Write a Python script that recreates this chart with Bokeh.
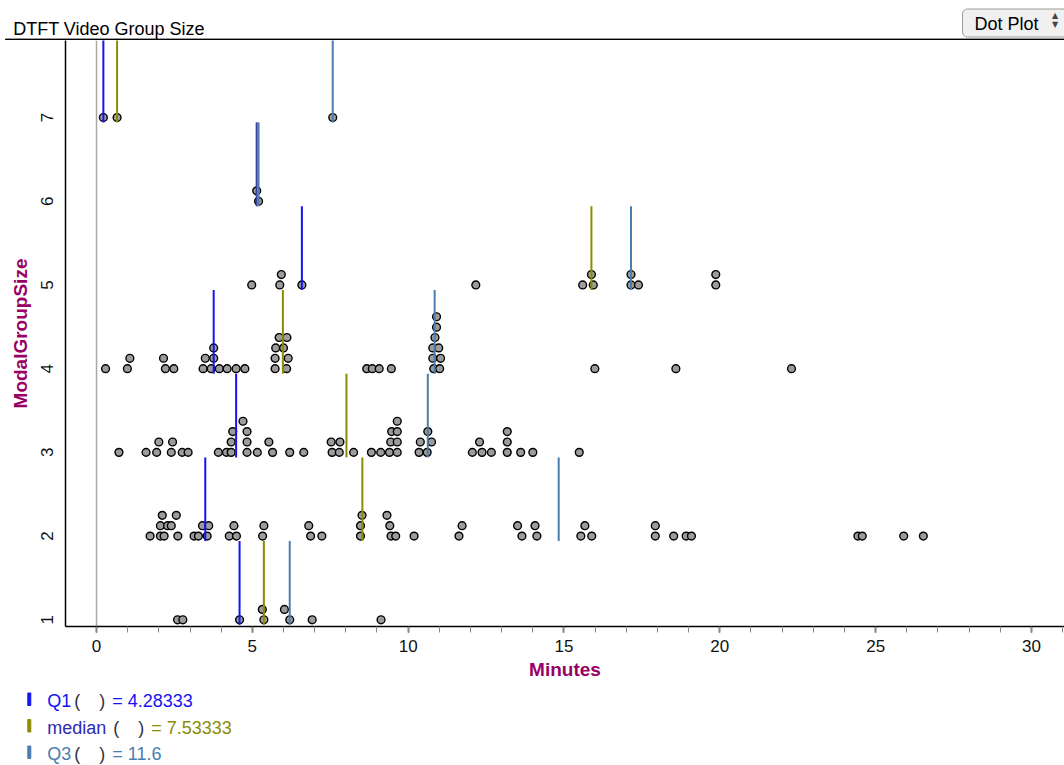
import math
from bokeh.plotting import figure
from bokeh.layouts import column
from bokeh.models import (Range1d, SingleIntervalTicker, FixedTicker, Span, Label,
                          BoxAnnotation, ColumnDataSource)
from bokeh.embed import file_html
from bokeh.resources import INLINE

# ---------------- data ----------------
group_sizes = [1, 2, 3, 4, 5, 6, 7]

# minutes per case, in case order, for each ModalGroupSize
minutes_g1 = [2.60, 2.77, 4.59, 5.37, 6.20, 6.92, 9.13, 5.32, 6.03]
minutes_g2 = [1.72, 2.05, 2.17, 2.61, 3.13, 3.27, 3.55, 4.26, 4.49, 5.33, 6.87, 7.23,
              8.47, 9.45, 9.60, 10.19, 11.63, 13.65, 14.13, 15.54, 15.89, 17.93, 18.52,
              18.92, 19.09, 24.43, 24.57, 25.90, 26.53,
              2.05, 2.28, 2.40, 3.40, 3.60, 4.41, 5.37, 6.81, 8.47, 9.41, 11.73, 13.51,
              14.07, 15.67, 17.93,
              2.11, 2.56, 8.52, 9.32]
minutes_g3 = [0.72, 1.59, 1.93, 2.40, 2.75, 2.94, 3.91, 4.17, 4.32, 4.83, 5.16, 5.65,
              6.20, 6.65, 7.56, 7.79, 8.25, 8.82, 9.12, 9.40, 9.65, 10.35, 10.61, 10.75,
              12.06, 12.37, 12.67, 13.18, 13.61, 14.00, 15.49,
              2.00, 2.44, 4.32, 4.83, 5.53, 7.53, 7.81, 9.44, 9.65, 10.39, 12.29, 13.18,
              4.37, 4.83, 9.47, 9.65, 10.63, 13.18,
              4.70, 9.65]
minutes_g4 = [0.29, 0.99, 2.21, 2.48, 3.42, 3.68, 3.94, 4.19, 4.48, 4.76, 5.73, 6.10,
              8.67, 8.85, 9.07, 9.46, 10.82, 11.01, 15.99, 18.59, 22.30,
              1.07, 2.15, 3.49, 3.76, 5.73, 6.15, 10.79, 11.04,
              3.76, 5.75, 6.00, 10.79, 10.98,
              5.86, 6.11, 10.86,
              10.91,
              10.91]
minutes_g5 = [4.98, 5.88, 6.59, 12.17, 15.60, 15.94, 17.15, 17.39, 19.87,
              5.93, 15.88, 17.15, 19.87]
minutes_g6 = [5.20, 5.14]
minutes_g7 = [0.22, 0.66, 7.58]
minutes_by_group = [minutes_g1, minutes_g2, minutes_g3, minutes_g4,
                    minutes_g5, minutes_g6, minutes_g7]

# per-group summary lines
q1_values = [4.59, 3.49, 4.48, 3.76, 6.59, 5.14, 0.22]
median_values = [5.37, 8.53, 8.02, 5.98, 15.88, 5.17, 0.66]
q3_values = [6.20, 14.83, 10.63, 10.85, 17.15, 5.20, 7.58]

x_ticks = [0, 5, 10, 15, 20, 25, 30]
y_ticks = [1, 2, 3, 4, 5, 6, 7]

title_text = "DTFT Video Group Size"
x_label = "Minutes"
y_label = "ModalGroupSize"
summary_names = ["Q1", "median", "Q3"]
summary_results = ["4.28333", "7.53333", "11.6"]
menu_text = "Dot Plot"

# ---------------- styling / layout constants ----------------
FONT = "Liberation Sans"
ATTR_COLOR = "#990066"
Q1_COLOR = "#1414f0"
MED_COLOR = "#8c8c00"
Q3_COLOR = "#4a7db0"
NAME_COLORS = ["#1414f0", "#2b2bb0", "#4a7db0"]
RESULT_COLORS = [Q1_COLOR, MED_COLOR, Q3_COLOR]
LINE_COLORS = [Q1_COLOR, MED_COLOR, Q3_COLOR]

BIN_W = 0.2566      # stacking bin width (minutes)
BIN_0 = 2.124       # bin origin
STEP = 0.124        # vertical distance between stacked dots
BAND_LO, BAND_HI = -0.06, 0.94

W = 1064
HEAD_H = 40
FRAME_H = 586
AXIS_H = 62
MAIN_H = FRAME_H + AXIS_H
FOOT_H = 765 - HEAD_H - MAIN_H
FOOT_TOP = HEAD_H + MAIN_H
LABEL_DY = -6.0


def no_align(f):
    try:
        f.frame_align = False
    except Exception:
        pass


def plain_fig(h):
    f = figure(width=W, height=h, x_range=Range1d(0, W), y_range=Range1d(h, 0),
               output_backend="svg", toolbar_location=None,
               x_axis_type=None, y_axis_type=None,
               min_border_left=0, min_border_right=0, min_border_top=0, min_border_bottom=0)
    f.outline_line_color = None
    f.xgrid.visible = False
    f.ygrid.visible = False
    f.background_fill_color = "white"
    f.border_fill_color = "white"
    no_align(f)
    return f


def label(f, text, x, y, color="black", size="18px", align="left", font=FONT):
    f.add_layout(Label(x=x, y=y + LABEL_DY, text=text, text_color=color, text_font=font,
                       text_font_size=size, text_align=align,
                       text_baseline="alphabetic"))


def box(f, x0, y0, x1, y1, fill, line=None):
    b = BoxAnnotation(left=x0, right=x1, top=y0, bottom=y1,
                      fill_color=fill, fill_alpha=1.0,
                      line_color=line if line else fill, line_alpha=1.0, line_width=1)
    f.add_layout(b)
    return b


# ---------------- header ----------------
head = plain_fig(HEAD_H)
box(head, 5, 38.6, W, 40, "black")
label(head, title_text, 12.7, 34.5, size="18px")
mb = box(head, 962, 8.5, W + 6, 36.5, "#f0f0f0", "#9a9a9a")
try:
    mb.border_radius = 5
except Exception:
    pass
label(head, menu_text, 974, 29.0, size="18px")
label(head, "\u25b2", 1054.5, 21.0, color="#444444", size="8px", align="center", font="DejaVu Sans")
label(head, "\u25bc", 1054.5, 30.0, color="#444444", size="8px", align="center", font="DejaVu Sans")

# ---------------- main dot plot ----------------
dot_x, dot_y = [], []
for g, vals in zip(group_sizes, minutes_by_group):
    counts = {}
    for v in vals:
        b = math.floor((v - BIN_0) / BIN_W)
        counts[b] = counts.get(b, 0) + 1
        dot_x.append(v)
        dot_y.append(g + (counts[b] - 1) * STEP)
dots = ColumnDataSource(dict(x=dot_x, y=dot_y))

p = figure(width=W, height=MAIN_H, x_range=Range1d(-0.995, 31.06), y_range=Range1d(0.92, 7.92),
           output_backend="svg", toolbar_location=None,
           min_border_left=65, min_border_right=0, min_border_top=0,
           min_border_bottom=AXIS_H)
p.outline_line_color = None
p.xgrid.visible = False
p.ygrid.visible = False
p.background_fill_color = "white"
p.border_fill_color = "white"
no_align(p)

zero = Span(location=0, dimension="height", line_color="#a8a8a8", line_width=1.5)
zero.level = "underlay"
p.add_layout(zero)

p.scatter("x", "y", source=dots, size=7.8, marker="circle",
          fill_color="#9c9c9c", line_color="black", line_width=1.4)

for vals, col in zip([q1_values, median_values, q3_values], LINE_COLORS):
    src = ColumnDataSource(dict(x=vals,
                                y0=[g + BAND_LO for g in group_sizes],
                                y1=[g + BAND_HI for g in group_sizes]))
    p.segment(x0="x", y0="y0", x1="x", y1="y1", source=src,
              line_color=col, line_width=2)

xa = p.xaxis[0]
xa.ticker = SingleIntervalTicker(interval=5, num_minor_ticks=5)
xa.axis_line_color = "black"
xa.axis_line_width = 1.5
xa.major_tick_in = 0
xa.major_tick_out = 6
xa.major_tick_line_width = 1.5
xa.minor_tick_in = 0
xa.minor_tick_out = 6
xa.minor_tick_line_color = "#888888"
xa.major_label_text_font = FONT
xa.major_label_text_font_size = "17px"
xa.major_label_text_color = "#111111"
xa.major_label_standoff = 7
xa.axis_label = x_label
xa.axis_label_text_font = FONT
xa.axis_label_text_font_size = "19px"
xa.axis_label_text_font_style = "bold"
xa.axis_label_text_color = ATTR_COLOR
xa.axis_label_standoff = 4

ya = p.yaxis[0]
ya.ticker = FixedTicker(ticks=y_ticks)
ya.axis_line_color = "black"
ya.axis_line_width = 1.5
ya.major_tick_in = 0
ya.major_tick_out = 0
ya.minor_tick_in = 0
ya.minor_tick_out = 0
ya.major_label_orientation = "vertical"
ya.major_label_text_font = FONT
ya.major_label_text_font_size = "17px"
ya.major_label_text_color = "#111111"
ya.major_label_standoff = 12
ya.axis_label = y_label
ya.axis_label_text_font = FONT
ya.axis_label_text_font_size = "19px"
ya.axis_label_text_font_style = "bold"
ya.axis_label_text_color = ATTR_COLOR
ya.axis_label_standoff = 8

# ---------------- footer: summary formulas ----------------
foot = plain_fig(FOOT_H)
rows_y = [706.5 - FOOT_TOP, 733.0 - FOOT_TOP, 759.5 - FOOT_TOP]
for i, (name, res) in enumerate(zip(summary_names, summary_results)):
    base = rows_y[i]
    box(foot, 27.3, base - 14, 30.3, base - 1.5, LINE_COLORS[i])
    label(foot, name, 46.7, base, color=NAME_COLORS[i])
    name_w = 59 if name == "median" else 20
    px0 = 46.7 + name_w + 7
    label(foot, "(", px0, base, color="#333344")
    label(foot, ")", px0 + 25, base, color="#333344")
    label(foot, "= " + res, px0 + 38, base, color=RESULT_COLORS[i])

layout = column(head, p, foot, spacing=0)
open("out.html", "w").write(file_html(layout, INLINE))
